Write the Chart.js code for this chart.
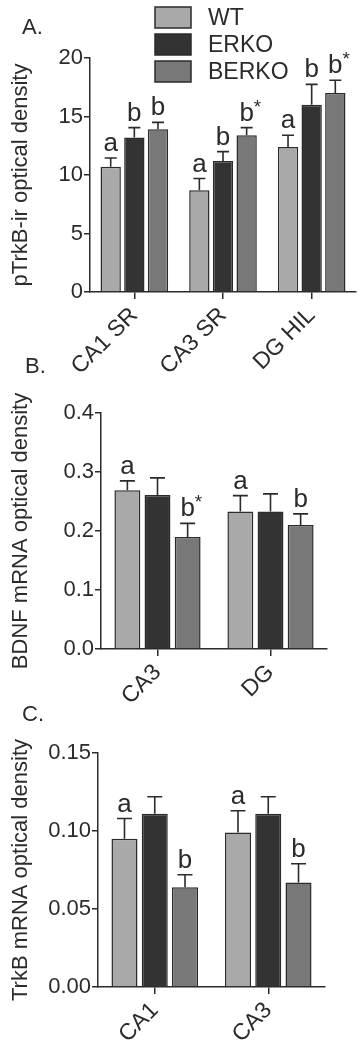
<!DOCTYPE html>
<html><head><meta charset="utf-8">
<script src="https://cdn.jsdelivr.net/npm/chart.js@4.4.1/dist/chart.umd.min.js"></script>
<style>
html,body{margin:0;padding:0;background:#fff;width:358px;height:1050px;overflow:hidden;position:relative}
canvas{position:absolute;left:0}
</style></head><body>
<canvas id="chartA" width="358" height="372" style="top:0px"></canvas>
<canvas id="chartB" width="358" height="380" style="top:340px"></canvas>
<canvas id="chartC" width="358" height="360" style="top:690px"></canvas>
<script>
// ---- shared series info ----
const seriesNames = ['WT', 'ERKO', 'BERKO'];
const seriesColors = ['#a9a9a9', '#333333', '#787878'];

// ---- Panel A: pTrkB-ir ----
const catA = ['CA1 SR', 'CA3 SR', 'DG HIL'];
const wtA = [10.7, 8.7, 12.4];
const erkoA = [13.2, 11.2, 16.0];
const berkoA = [13.9, 13.4, 17.0];
const wtErrA = [0.75, 1.0, 1.0];
const erkoErrA = [0.85, 0.8, 1.75];
const berkoErrA = [0.6, 0.65, 1.1];
const wtLetA = ['a', 'a', 'a'];
const erkoLetA = ['b', 'b', 'b'];
const berkoLetA = ['b', 'b*', 'b*'];
const ticksA = ['0', '5', '10', '15', '20'];

// ---- Panel B: BDNF mRNA ----
const catB = ['CA3', 'DG'];
const wtB = [0.269, 0.233];
const erkoB = [0.261, 0.233];
const berkoB = [0.190, 0.210];
const wtErrB = [0.016, 0.027];
const erkoErrB = [0.029, 0.030];
const berkoErrB = [0.023, 0.019];
const wtLetB = ['a', 'a'];
const erkoLetB = ['', ''];
const berkoLetB = ['b*', 'b'];
const ticksB = ['0.0', '0.1', '0.2', '0.3', '0.4'];

// ---- Panel C: TrkB mRNA ----
const catC = ['CA1', 'CA3'];
const wtC = [0.095, 0.099];
const erkoC = [0.111, 0.111];
const berkoC = [0.064, 0.067];
const wtErrC = [0.013, 0.014];
const erkoErrC = [0.011, 0.011];
const berkoErrC = [0.008, 0.012];
const wtLetC = ['a', 'a'];
const erkoLetC = ['', ''];
const berkoLetC = ['b', 'b'];
const ticksC = ['0.00', '0.05', '0.10', '0.15'];

const FONT = "'Liberation Sans', Arial, Helvetica, sans-serif";
const INK = '#2b2b2b';

const errorBarPlugin = {
  id: 'errorBars',
  afterDatasetsDraw(chart) {
    const ctx = chart.ctx;
    const y = chart.scales.y;
    ctx.save();
    chart.data.datasets.forEach((ds, di) => {
      const meta = chart.getDatasetMeta(di);
      meta.data.forEach((bar, i) => {
        const top = ds.data[i] + ds.errs[i];
        const yTop = y.getPixelForValue(top);
        ctx.strokeStyle = INK;
        ctx.lineWidth = 1.6;
        ctx.beginPath();
        ctx.moveTo(bar.x, bar.y);
        ctx.lineTo(bar.x, yTop);
        const cap = chart.options.plugins.errorBars.cap;
        ctx.moveTo(bar.x - cap / 2, yTop);
        ctx.lineTo(bar.x + cap / 2, yTop);
        ctx.stroke();
        const lab = ds.letters[i];
        if (lab) {
          const base = lab.replace('*', '');
          ctx.fillStyle = INK;
          ctx.font = '26px ' + FONT;
          ctx.textAlign = 'center';
          ctx.textBaseline = 'alphabetic';
          const by = yTop - 7;
          ctx.fillText(base, bar.x, by);
          if (lab.includes('*')) {
            const w = ctx.measureText(base).width;
            ctx.font = '19px ' + FONT;
            ctx.textAlign = 'left';
            ctx.fillText('*', bar.x + w / 2, by - 8);
          }
        }
      });
    });
    ctx.restore();
  }
};

const panelLabelPlugin = {
  id: 'panelLabel',
  afterDraw(chart) {
    const o = chart.options.plugins.panelLabel;
    const ctx = chart.ctx;
    ctx.save();
    ctx.fillStyle = INK;
    ctx.font = '22px ' + FONT;
    ctx.textAlign = 'left';
    ctx.textBaseline = 'alphabetic';
    ctx.fillText(o.text, o.x, o.y);
    if (o.legend) {
      chart.data.datasets.forEach((ds, i) => {
        const by = 7 + i * 27;
        ctx.fillStyle = ds.backgroundColor;
        ctx.fillRect(155, by, 36, 21);
        ctx.strokeStyle = INK;
        ctx.lineWidth = 1.5;
        ctx.strokeRect(155, by, 36, 21);
        ctx.fillStyle = INK;
        ctx.font = '23px ' + FONT;
        ctx.textBaseline = 'middle';
        ctx.fillText(ds.label, 208, by + 12);
      });
    }
    ctx.restore();
  }
};

function makeChart(id, cats, vals, errs, lets, yMax, step, tickLabels, title, g) {
  const datasets = seriesNames.map((n, k) => ({
    label: n,
    data: vals[k],
    errs: errs[k],
    letters: lets[k],
    backgroundColor: seriesColors[k],
    borderColor: INK,
    borderWidth: 1.5,
    categoryPercentage: 0.8,
    barPercentage: 0.86
  }));
  return new Chart(document.getElementById(id), {
    type: 'bar',
    data: { labels: cats, datasets },
    options: {
      responsive: false,
      animation: false,
      layout: { padding: { top: g.top, right: g.right, left: 0, bottom: 0 } },
      plugins: {
        legend: { display: false },
        tooltip: { enabled: false },
        errorBars: { cap: g.cap },
        panelLabel: { text: g.label, x: g.lx, y: g.ly, legend: g.legend }
      },
      scales: {
        x: {
          offset: true,
          grid: { display: true, drawOnChartArea: false, drawTicks: true, tickLength: 7, offset: false, color: INK, lineWidth: 1.5 },
          border: { display: true, color: INK, width: 1.5 },
          ticks: { color: INK, font: { family: FONT, size: 23 }, minRotation: 45, maxRotation: 45, padding: 3 },
          afterFit(s) { s.height = g.xh; }
        },
        y: {
          min: 0, max: yMax,
          grid: { display: true, drawOnChartArea: false, drawTicks: true, tickLength: 6, color: INK, lineWidth: 1.5 },
          border: { display: true, color: INK, width: 1.5 },
          ticks: { stepSize: step, color: INK, font: { family: FONT, size: 22 }, padding: 1,
                   callback: (v, i) => tickLabels[i] },
          title: { display: true, text: title, color: INK, font: { family: FONT, size: 22 }, padding: { top: 8, bottom: 0 } },
          afterFit(s) { s.width = g.yw; }
        }
      }
    },
    plugins: [errorBarPlugin, panelLabelPlugin]
  });
}

makeChart('chartA', catA, [wtA, erkoA, berkoA], [wtErrA, erkoErrA, berkoErrA],
  [wtLetA, erkoLetA, berkoLetA], 20, 5, ticksA, 'pTrkB-ir optical density',
  { top: 58, right: 2, yw: 90, xh: 80, cap: 12, label: 'A.', lx: 22, ly: 34, legend: true });

makeChart('chartB', catB, [wtB, erkoB, berkoB], [wtErrB, erkoErrB, berkoErrB],
  [wtLetB, erkoLetB, berkoLetB], 0.4, 0.1, ticksB, 'BDNF mRNA optical density',
  { top: 73, right: 31, yw: 101, xh: 71, cap: 15, label: 'B.', lx: 25, ly: 33, legend: false });

makeChart('chartC', catC, [wtC, erkoC, berkoC], [wtErrC, erkoErrC, berkoErrC],
  [wtLetC, erkoLetC, berkoLetC], 0.15, 0.05, ticksC, 'TrkB mRNA optical density',
  { top: 63, right: 33, yw: 98, xh: 63, cap: 15, label: 'C.', lx: 22, ly: 31, legend: false });
</script>
</body></html>
